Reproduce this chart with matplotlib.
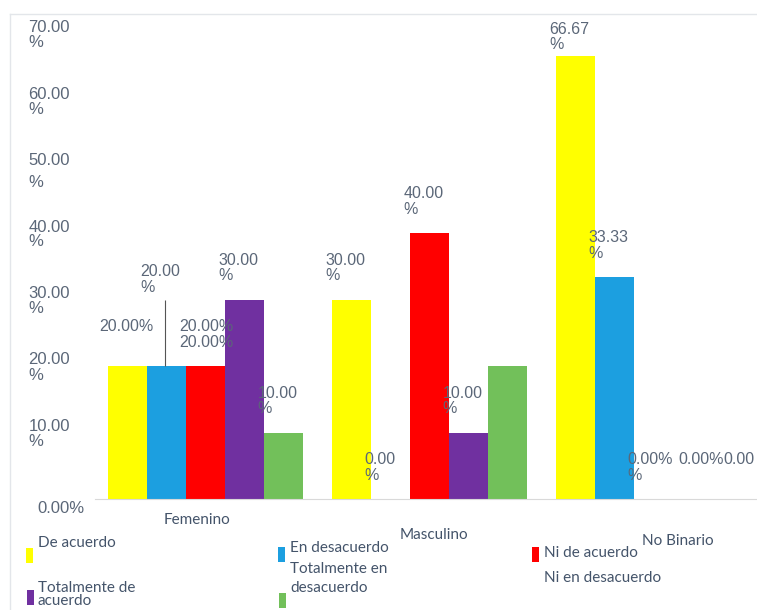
import matplotlib
matplotlib.use("Agg")
import matplotlib.pyplot as plt
import matplotlib.transforms as mtransforms
from matplotlib.patches import Rectangle
from matplotlib.lines import Line2D
import numpy as np

categories = ["Femenino", "Masculino", "No Binario"]
series = ["De acuerdo", "En desacuerdo", "Ni de acuerdo Ni en desacuerdo",
          "Totalmente de acuerdo", "Totalmente en desacuerdo"]
de_acuerdo = [20.00, 30.00, 66.67]
en_desacuerdo = [20.00, 0.00, 33.33]
ni_ni = [20.00, 40.00, 0.00]
tot_acuerdo = [30.00, 10.00, 0.00]
tot_desacuerdo = [10.00, 20.00, 0.00]
values = [de_acuerdo, en_desacuerdo, ni_ni, tot_acuerdo, tot_desacuerdo]

# data labels as they appear (wrapped the odd way the original does)
labels = [
    ["20.00%", "30.00\n%", "66.67\n%"],
    ["20.00\n%", "0.00\n%", "33.33\n%"],
    ["20.00%\n20.00%", "40.00\n%", "0.00%\n%"],
    ["30.00\n%", "10.00\n%", "0.00%"],
    ["10.00\n%", "", "0.00"],
]
yticks = [0, 10, 20, 30, 40, 50, 60, 70]
ytick_labels = ["0.00%", "10.00\n%", "20.00\n%", "30.00\n%", "40.00\n%",
                "50.00\n%", "60.00\n%", "70.00\n%"]

colors = ["#ffff00", "#1c9fe0", "#ff0000", "#7030a0", "#72c05a"]
txt_col = "#5b6778"

W, H = 757, 610
fig = plt.figure(figsize=(W / 100, H / 100), dpi=100)

def fx(x):
    return x / W

def fy(y):
    return 1 - y / H

ax = fig.add_axes([fx(95), fy(499), fx(757) - fx(95), fy(33.5) - fy(499)])
bw = 39 / 224
x = np.arange(len(categories))
for i, (vals, c) in enumerate(zip(values, colors)):
    xs = x + (i - 2) * bw
    ax.bar(xs, vals, width=bw, color=c, linewidth=0)
    for j, (xx, v) in enumerate(zip(xs, vals)):
        lab = labels[i][j]
        if not lab:
            continue
        dx, dy = -6, 47
        if i == 1 and j == 0:
            dy = 102
        if i == 0 and j == 0:
            dx = -8
        if i == 0 and j == 2:
            dy = 34
        if i == 3 and j == 2:
            dx = 6
        if i == 4 and j == 2:
            dx = 12
        ax.annotate(lab, xy=(xx - bw / 2, v), xytext=(dx, dy),
                    textcoords="offset pixels", ha="left", va="top",
                    fontsize=11.5, color=txt_col, family="Liberation Sans",
                    linespacing=1.05, annotation_clip=False)

# leader line for the shifted Femenino / En desacuerdo label
lead_x = x[0] - bw * 1.5 + 18 / 224
ax.vlines(lead_x, en_desacuerdo[0], en_desacuerdo[0] + 10,
          color="#555555", lw=0.8)

ax.set_xlim(-110 / 224, (757 - 205) / 224)
ax.set_ylim(0, 70)
for s in ["top", "right", "left"]:
    ax.spines[s].set_visible(False)
ax.spines["bottom"].set_color("#d9d9d9")
ax.set_xticks([])
ax.set_yticks(yticks)
ax.set_yticklabels(ytick_labels, fontsize=12, color=txt_col,
                   family="Liberation Sans", ha="left", linespacing=1.0)
ax.tick_params(axis="y", length=0, pad=48)
tls = ax.get_yticklabels()
tls[0].set_va("top")
tls[0].set_transform(tls[0].get_transform() +
                     mtransforms.ScaledTranslation(9 / 100, -2 / 100, fig.dpi_scale_trans))
tls[5].set_linespacing(1.6)

# category names, each sitting at its own height like the original
cat_dx = [-8, 5, 25]
cat_y = [520, 535, 541]
for c, xx, dxp, yp in zip(categories, x, cat_dx, cat_y):
    xp = 205 + xx * 224 + dxp
    fig.text(fx(xp), fy(yp), c, ha="center", va="center", fontsize=11,
             color="#44546a", family="Lato")

# light chart frame
fig.add_artist(Line2D([fx(10), fx(757)], [fy(14), fy(14)], color="#e3e6ea", lw=1))
fig.add_artist(Line2D([fx(10), fx(10)], [fy(14), fy(610)], color="#e3e6ea", lw=1))

# legend drawn by hand (the original wraps entries in odd places)
leg = [
    (26, 548, "De acuerdo", 38, 545, 1.2),
    (278, 547, "En desacuerdo", 290, 550, 1.2),
    (532, 547, "Ni de acuerdo\nNi en desacuerdo", 544, 555, 2.0),
    (27, 590, "Totalmente de\nacuerdo", 38, 590, 0.95),
    (279, 593, "Totalmente en\ndesacuerdo", 290, 571, 1.45),
]
for (rx, ry, t, tx, ty, ls), c in zip(leg, colors):
    fig.add_artist(Rectangle((fx(rx), fy(ry + 15)), 7 / W, 15 / H,
                             transform=fig.transFigure, color=c, lw=0))
    fig.text(fx(tx), fy(ty - 9), t, ha="left", va="top", fontsize=11,
             color="#44546a", family="Lato", linespacing=ls)

fig.savefig("out.png", dpi=100)
